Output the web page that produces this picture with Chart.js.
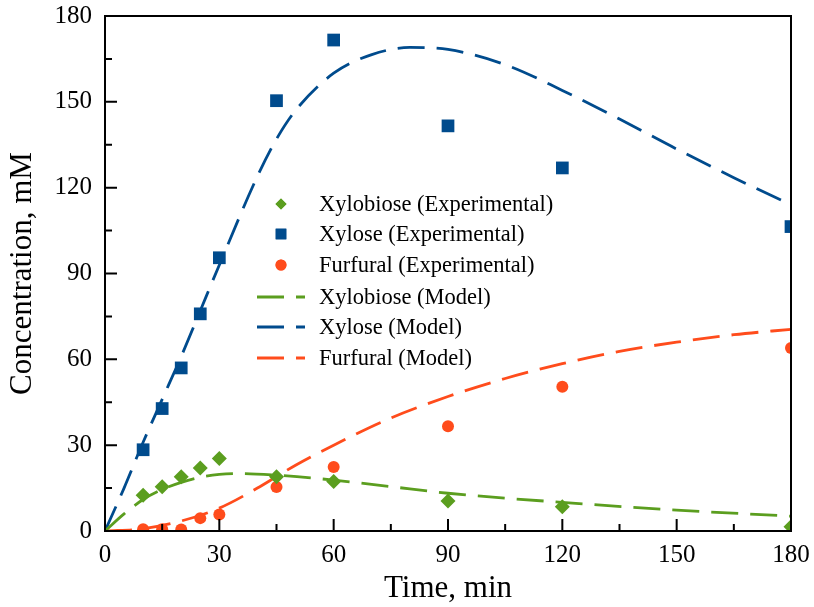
<!DOCTYPE html>
<html>
<head>
<meta charset="utf-8">
<script src="https://cdn.jsdelivr.net/npm/chart.js@4/dist/chart.umd.min.js"></script>
<style>
  html, body { margin: 0; padding: 0; background: #fff; }
  #wrap { width: 814px; height: 607px; }
</style>
</head>
<body>
<div id="wrap"><canvas id="chart" width="814" height="607"></canvas></div>
<script>
'use strict';

// experimental sampling times and values (mM)
var expTime = [10, 15, 20, 25, 30, 45, 60, 90, 120, 180];
var xylobioseExp = [12.5, 15.5, 19, 22, 25.3, 19, 17.3, 10.5, 8.5, 1.5];
var xyloseExp = [28.4, 42.8, 57, 75.9, 95.5, 150.4, 171.6, 141.6, 126.9, 106.4];
var furfuralTime = [10, 15, 20, 25, 30, 45, 60, 90, 120, 180];
var furfuralExp = [0.6, 0.6, 0.5, 4.5, 5.8, 15.4, 22.4, 36.6, 50.4, 64];

// model curves
var xylobioseModelTime = [0, 5, 10, 15, 20, 25, 30, 35, 45, 60, 75, 90, 120, 150, 180];
var xylobioseModel = [0, 6, 11, 14.5, 17, 18.8, 19.8, 20.1, 19.5, 17.8, 15.5, 13.2, 10, 7.3, 5.2];
var xyloseModelTime = [0, 5, 10, 15, 20, 25, 30, 40, 45, 50, 60, 70, 80, 90, 105, 120, 135, 150, 165, 180];
var xyloseModel = [0, 15, 31, 46, 61, 77, 93, 124, 137, 147, 160, 166.5, 169, 168.3, 163, 154, 144, 133.5, 123.5, 114];
var furfuralModelTime = [0, 10, 20, 30, 40, 45, 50, 60, 75, 90, 105, 120, 135, 150, 165, 180];
var furfuralModel = [0, 0.8, 3.5, 8, 15, 19, 23, 30, 39.5, 47, 53.3, 58.5, 62.8, 66, 68.6, 70.5];

var axisTicks = [0, 30, 60, 90, 120, 150, 180];

var GREEN = '#5b9e1f', BLUE = '#004b8d', RED = '#ff4c1c';
var FONT = "'Liberation Serif', 'Times New Roman', serif";

var pts = function (xs, ys) {
  return xs.map(function (x, i) { return { x: x, y: ys[i] }; });
};

var expSet = function (label, xs, ys, color, style, radius, legendRadius) {
  return {
    label: label, data: pts(xs, ys), pointStyle: style, pointRadius: radius, legendRadius: legendRadius,
    backgroundColor: color, borderColor: color, borderWidth: 0, showLine: false, clip: 0
  };
};

var modelSet = function (label, xs, ys, color) {
  return {
    label: label, data: pts(xs, ys), showLine: true, pointRadius: 0,
    borderColor: color, backgroundColor: color, borderWidth: 2.8, borderDash: [27, 12],
    cubicInterpolationMode: 'monotone', clip: 0
  };
};

var datasets = [
  expSet('Xylobiose (Experimental)', expTime, xylobioseExp, GREEN, 'rectRot', 7.5, 5.5),
  expSet('Xylose (Experimental)', expTime, xyloseExp, BLUE, 'rect', 9, 7.5),
  expSet('Furfural (Experimental)', furfuralTime, furfuralExp, RED, 'circle', 6, 5.5),
  modelSet('Xylobiose (Model)', xylobioseModelTime, xylobioseModel, GREEN),
  modelSet('Xylose (Model)', xyloseModelTime, xyloseModel, BLUE),
  modelSet('Furfural (Model)', furfuralModelTime, furfuralModel, RED)
];

// inward ticks + box frame
var frameTicks = {
  id: 'frameTicks',
  afterDatasetsDraw: function (chart) {
    var ctx = chart.ctx, a = chart.chartArea;
    var xs = chart.scales.x, ys = chart.scales.y;
    ctx.save();
    ctx.strokeStyle = '#000';
    ctx.lineWidth = 2;
    for (var v = 0; v <= 180; v += 15) {
      var len = v % 30 === 0 ? 12 : 7;
      var px = xs.getPixelForValue(v), py = ys.getPixelForValue(v);
      ctx.beginPath();
      ctx.moveTo(px, a.bottom); ctx.lineTo(px, a.bottom - len);
      ctx.moveTo(a.left, py); ctx.lineTo(a.left + len, py);
      ctx.stroke();
    }
    ctx.strokeRect(a.left, a.top, a.right - a.left, a.bottom - a.top);
    ctx.restore();
  }
};

// legend drawn inside the plot
var innerLegend = {
  id: 'innerLegend',
  afterDraw: function (chart) {
    var ctx = chart.ctx;
    var rows = [204, 234, 265, 297, 327, 358];
    ctx.save();
    ctx.font = '22.5px ' + FONT;
    ctx.textBaseline = 'middle';
    ctx.fillStyle = '#000';
    chart.data.datasets.forEach(function (ds, i) {
      var y = rows[i];
      if (ds.showLine) {
        ctx.save();
        ctx.strokeStyle = ds.borderColor;
        ctx.lineWidth = ds.borderWidth;
        ctx.setLineDash(ds.borderDash);
        ctx.beginPath(); ctx.moveTo(257, y); ctx.lineTo(305, y); ctx.stroke();
        ctx.restore();
      } else {
        ctx.save();
        ctx.fillStyle = ds.backgroundColor;
        Chart.helpers.drawPoint(ctx, { pointStyle: ds.pointStyle, radius: ds.legendRadius, borderWidth: 0 }, 281, y);
        ctx.fill();
        ctx.restore();
      }
      ctx.fillText(ds.label, 319, y + 1);
    });
    ctx.restore();
  }
};

new Chart(document.getElementById('chart'), {
  type: 'scatter',
  data: { datasets: datasets },
  plugins: [frameTicks, innerLegend],
  options: {
    responsive: false, animation: false,
    layout: { padding: { left: 0, top: 16, right: 23, bottom: 0 } },
    plugins: { legend: { display: false }, tooltip: { enabled: false } },
    scales: {
      x: {
        type: 'linear', min: 0, max: 180,
        afterFit: function (s) { s.height = 76; s.paddingLeft = 0; s.paddingRight = 0; },
        afterBuildTicks: function (s) { s.ticks = axisTicks.map(function (v) { return { value: v }; }); },
        grid: { display: false, drawTicks: false },
        border: { display: false },
        ticks: { color: '#000', padding: 9, font: { family: FONT, size: 25 } },
        title: { display: true, text: 'Time, min', color: '#000', padding: { top: 0, bottom: 0 }, font: { family: FONT, size: 31 } }
      },
      y: {
        type: 'linear', min: 0, max: 180,
        afterFit: function (s) { s.width = 105; s.paddingTop = 0; s.paddingBottom = 0; },
        afterBuildTicks: function (s) { s.ticks = axisTicks.map(function (v) { return { value: v }; }); },
        grid: { display: false, drawTicks: false },
        border: { display: false },
        ticks: { color: '#000', padding: 13, font: { family: FONT, size: 25 } },
        title: { display: true, text: 'Concentration, mM', color: '#000', padding: { top: 4, bottom: 0 }, font: { family: FONT, size: 31 } }
      }
    }
  }
});
</script>
</body>
</html>
